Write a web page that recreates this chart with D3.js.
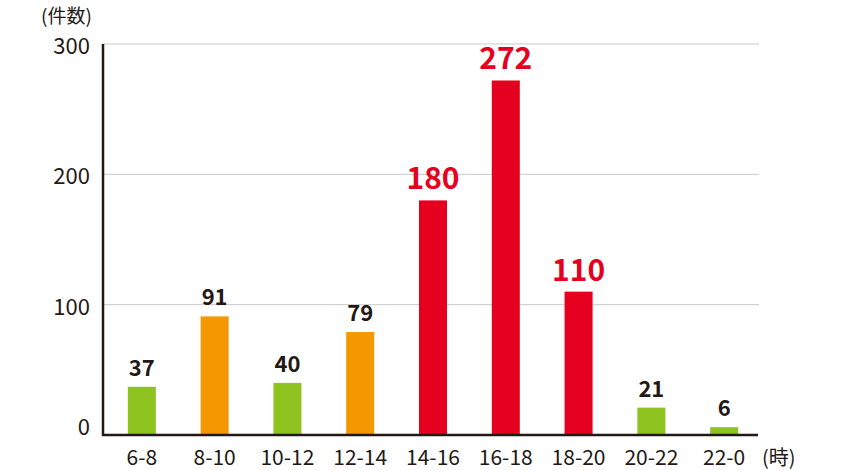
<!DOCTYPE html>
<html>
<head>
<meta charset="utf-8">
<script src="https://cdn.jsdelivr.net/npm/d3@7"></script>
<style>
  body { margin: 0; background: #fff; }
  text { font-family: "Noto Sans CJK JP", "Noto Sans", sans-serif; fill: #231815; }
</style>
</head>
<body>
<script>
//data
var hours = ["6-8", "8-10", "10-12", "12-14", "14-16", "16-18", "18-20", "20-22", "22-0"];
var counts = [37, 91, 40, 79, 180, 272, 110, 21, 6];
var levels = ["low", "mid", "low", "mid", "high", "high", "high", "low", "low"];
var yTicks = [0, 100, 200, 300];

//colours per level
var levelColor = { low: "#8fc31f", mid: "#f39800", high: "#e60020" };

var width = 860, height = 470;
var svg = d3.select("body").append("svg")
    .attr("width", width)
    .attr("height", height);

var x = d3.scaleBand()
    .domain(hours)
    .range([106, 760])
    .paddingInner(0.615)
    .paddingOuter(0.3);

var y = d3.scaleLinear()
    .domain([0, 300])
    .range([435, 44]);

//gridlines
svg.selectAll(".grid")
    .data(yTicks.filter(function(d){ return d > 0; }))
    .enter().append("line")
    .attr("x1", 103).attr("x2", 759)
    .attr("y1", function(d){ return y(d); })
    .attr("y2", function(d){ return y(d); })
    .attr("stroke", "#c9c9c9")
    .attr("stroke-width", 1);

//y tick labels
svg.selectAll(".ylab")
    .data(yTicks)
    .enter().append("text")
    .attr("x", 90)
    .attr("y", function(d){ return d === 0 ? y(d) - 6 : y(d) + 4; })
    .attr("text-anchor", "end")
    .attr("dominant-baseline", "middle")
    .style("font-size", "22px")
    .text(function(d){ return d; });

//bars
svg.selectAll(".bar")
    .data(counts)
    .enter().append("rect")
    .attr("x", function(d, i){ return x(hours[i]); })
    .attr("width", x.bandwidth())
    .attr("y", function(d){ return y(d); })
    .attr("height", function(d){ return y(0) - y(d); })
    .attr("fill", function(d, i){ return levelColor[levels[i]]; });

//value labels
svg.selectAll(".val")
    .data(counts)
    .enter().append("text")
    .attr("x", function(d, i){ return x(hours[i]) + x.bandwidth() / 2; })
    .attr("y", function(d){ return y(d) - 11; })
    .attr("text-anchor", "middle")
    .style("font-weight", "bold")
    .style("font-size", function(d, i){ return levels[i] === "high" ? "30px" : "22px"; })
    .style("fill", function(d, i){ return levels[i] === "high" ? levelColor.high : "#231815"; })
    .text(function(d){ return d; });

//axes lines
svg.append("line")
    .attr("x1", 103).attr("x2", 103)
    .attr("y1", 44).attr("y2", 436)
    .attr("stroke", "#231815").attr("stroke-width", 2.5);
svg.append("line")
    .attr("x1", 102).attr("x2", 758)
    .attr("y1", 435).attr("y2", 435)
    .attr("stroke", "#231815").attr("stroke-width", 2.5);

//x labels
svg.selectAll(".xlab")
    .data(hours)
    .enter().append("text")
    .attr("x", function(d){ return x(d) + x.bandwidth() / 2; })
    .attr("y", 465)
    .attr("text-anchor", "middle")
    .style("font-size", "21px")
    .text(function(d){ return d; });

//units
svg.append("text")
    .attr("x", 41).attr("y", 23)
    .style("font-size", "19px")
    .text("(件数)");
svg.append("text")
    .attr("x", 762).attr("y", 465)
    .style("font-size", "20px")
    .text("(時)");
</script>
</body>
</html>
